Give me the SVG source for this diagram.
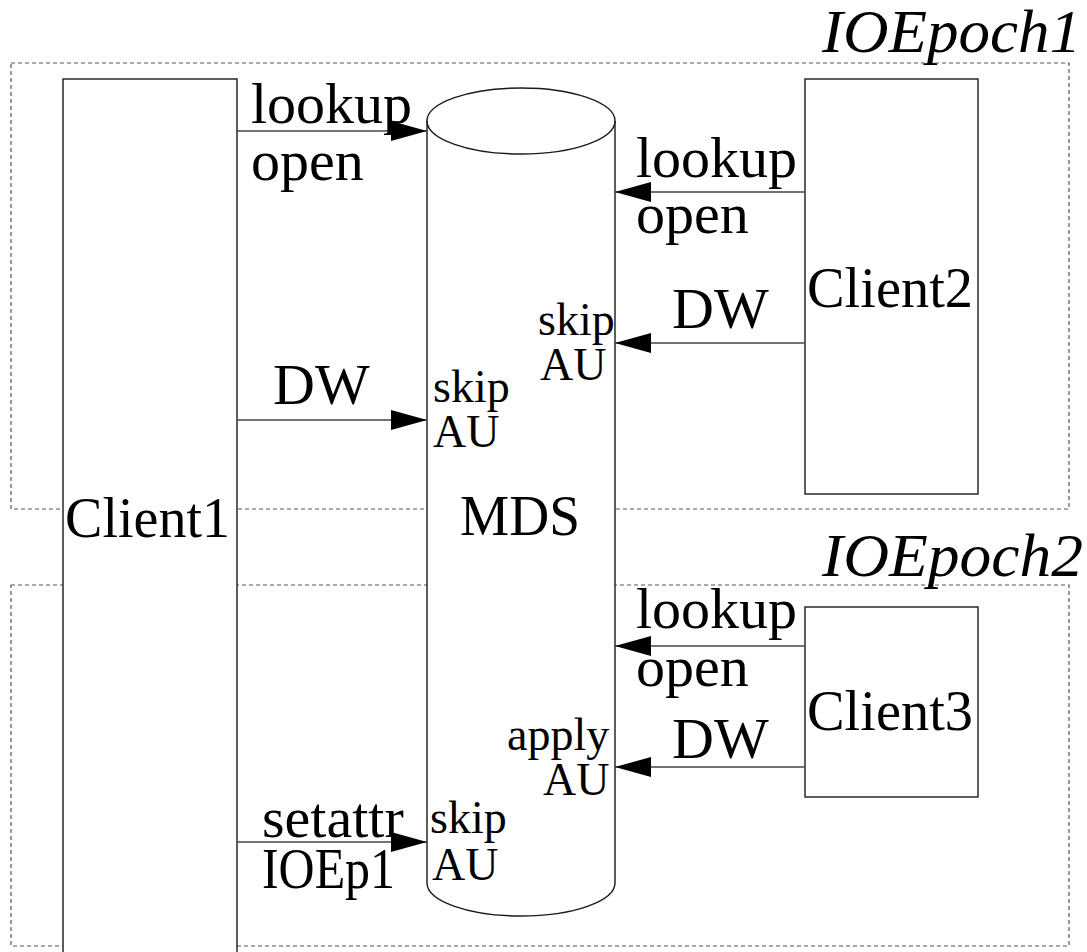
<svg xmlns="http://www.w3.org/2000/svg" width="1087" height="952" viewBox="0 0 1087 952">
<style>
.epoch{fill:none;stroke:#555;stroke-width:1.2;stroke-dasharray:4,3}
.node{fill:#fff;stroke:#1a1a1a;stroke-width:1.4}
.conn{stroke:#444;stroke-width:1.4;fill:none;marker-end:url(#ah)}
.t{font-family:"Liberation Serif","Times New Roman",serif;fill:#000}
.big{font-size:58px}
.small{font-size:46px}
.it{font-size:62px;font-style:italic}
</style>
<defs>
<marker id="ah" markerUnits="userSpaceOnUse" markerWidth="36" markerHeight="20" refX="36" refY="10" orient="auto">
<path d="M0,0 L36,10 L0,20 z" fill="#000"/>
</marker>
</defs>
<g id="epochs">
<rect class="epoch" x="11" y="63" width="1058" height="446"/>
<rect class="epoch" x="11" y="585" width="1058" height="361"/>
</g>
<g id="client1">
<rect class="node" x="63" y="79" width="174" height="890"/>
<text class="t big" x="65" y="537" textLength="165" lengthAdjust="spacingAndGlyphs">Client1</text>
</g>
<g id="mds">
<path class="node" d="M427,121 L427,883 A94,33 0 0 0 615,883 L615,121 A94,33 0 0 0 427,121 Z"/>
<path d="M427,121 A94,33 0 0 0 615,121" fill="none" stroke="#1a1a1a" stroke-width="1.4"/>
<text class="t big" x="460" y="535" textLength="120" lengthAdjust="spacingAndGlyphs">MDS</text>
</g>
<g id="client2">
<rect class="node" x="805" y="79" width="173" height="415"/>
<text class="t big" x="807" y="307" textLength="166" lengthAdjust="spacingAndGlyphs">Client2</text>
</g>
<g id="client3">
<rect class="node" x="805" y="607" width="173" height="190"/>
<text class="t big" x="807" y="730" textLength="166" lengthAdjust="spacingAndGlyphs">Client3</text>
</g>
<g id="connectors">
<line class="conn" x1="237" y1="131" x2="427" y2="131"/>
<line class="conn" x1="805" y1="192" x2="615" y2="192"/>
<line class="conn" x1="805" y1="343" x2="615" y2="343"/>
<line class="conn" x1="237" y1="420" x2="427" y2="420"/>
<line class="conn" x1="805" y1="646" x2="615" y2="646"/>
<line class="conn" x1="805" y1="767" x2="615" y2="767"/>
<line class="conn" x1="237" y1="842" x2="427" y2="842"/>
</g>
<g id="labels">
<text class="t it" x="822" y="52" textLength="259" lengthAdjust="spacingAndGlyphs">IOEpoch1</text>
<text class="t it" x="822" y="576" textLength="261" lengthAdjust="spacingAndGlyphs">IOEpoch2</text>
<text class="t big" x="251" y="123">lookup</text>
<text class="t big" x="251" y="180">open</text>
<text class="t big" x="636" y="177">lookup</text>
<text class="t big" x="636" y="233">open</text>
<text class="t big" x="672" y="328">DW</text>
<text class="t small" x="538" y="335">skip</text>
<text class="t small" x="540" y="380">AU</text>
<text class="t big" x="273" y="404">DW</text>
<text class="t small" x="433" y="402">skip</text>
<text class="t small" x="433" y="447">AU</text>
<text class="t big" x="636" y="628">lookup</text>
<text class="t big" x="636" y="686">open</text>
<text class="t big" x="672" y="758">DW</text>
<text class="t small" x="507" y="750">apply</text>
<text class="t small" x="543" y="795">AU</text>
<text class="t big" x="262" y="837">setattr</text>
<text class="t big" x="262" y="888" textLength="133" lengthAdjust="spacingAndGlyphs">IOEp1</text>
<text class="t small" x="430" y="833">skip</text>
<text class="t small" x="432" y="880">AU</text>
</g>
</svg>
